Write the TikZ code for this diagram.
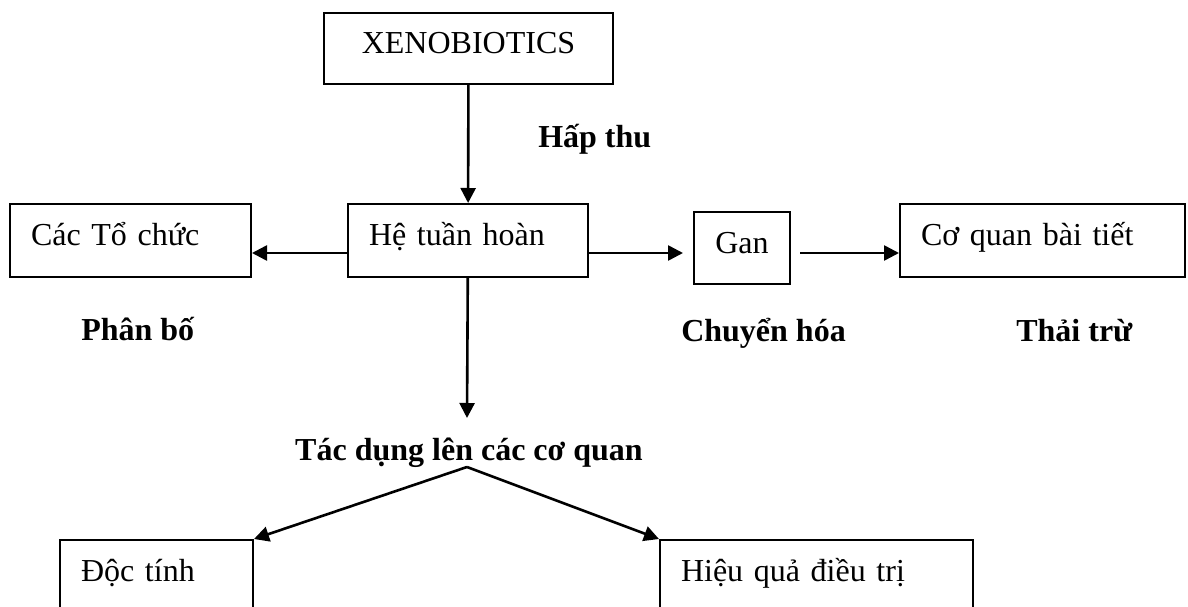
\documentclass[tikz,border=0pt]{standalone}
\usepackage{fontspec}
\setmainfont{Liberation Serif}
\usetikzlibrary{arrows.meta, positioning}

\begin{document}
\begin{tikzpicture}[x=1pt,y=-1pt,>={Triangle[length=15pt,width=15pt]},line width=2.6pt]
  \tikzstyle{every node}=[font=\fontsize{32}{38}\selectfont]
  \tikzstyle{box}=[draw, rectangle, line width=2pt, anchor=north west, inner xsep=21pt, inner ysep=0pt, text height=41pt]
  \tikzstyle{lbl}=[font=\fontsize{32}{38}\selectfont\bfseries, anchor=base west, inner sep=0pt]

  \useasboundingbox (0,0) rectangle (1188,607);
  \clip (0,0) rectangle (1188,607);

    \node[box, align=center, text width=247pt, text depth=30pt] (xeno) at (323,12) {XENOBIOTICS};
    \node[box, text width=198pt, text depth=32pt]               (hth)  at (347,203) {Hệ tuần hoàn};
    \node[box, text width=199pt, text depth=32pt]               (cac)  [left=95pt of hth]   {Các Tổ chức};
    \node[box, text width=243pt, text depth=32pt]               (coquan) [right=310pt of hth] {Cơ quan bài tiết};
    \node[box, align=center, inner xsep=20pt, text width=56pt, text depth=31pt] (gan) at (693,211) {Gan};
    \node[box, text width=151pt, text depth=59pt]               (doc)  at (59,539)  {Độc tính};
    \node[box, text width=271pt, text depth=59pt]               (hq)   at (659,539) {Hiệu quả điều trị};

    \node[lbl]               (hapthu)    at (537,147)  {Hấp thu};
    \node[lbl]               (phanbo)    at (80,340)   {Phân bố};
    \node[lbl]               (chuyenhoa) at (680,341)  {Chuyển hóa};
    \node[lbl]               (thaitru)   at (1015,341) {Thải trừ};
    \node[lbl, anchor=base]  (tacdung)   at (469,460)  {Tác dụng lên các cơ quan};

    \coordinate (tip)  at (467,418);
    \coordinate (apex) at (467,467);

    \path[->]
    (xeno) edge (hth)
    ([yshift=-12.5pt]hth.west) edge ([yshift=-12.5pt]cac.east)
    ([yshift=-12.5pt]hth.east) edge [shorten >=10pt] ([yshift=-12.5pt]hth.east -| gan.west)
    ([yshift=-12.5pt]coquan.west -| gan.east) edge [shorten <=9pt] ([yshift=-12.5pt]coquan.west)
    (hth) edge (tip)
    (apex) edge (doc.north east)
           edge (hq.north west);

\end{tikzpicture}
\end{document}
